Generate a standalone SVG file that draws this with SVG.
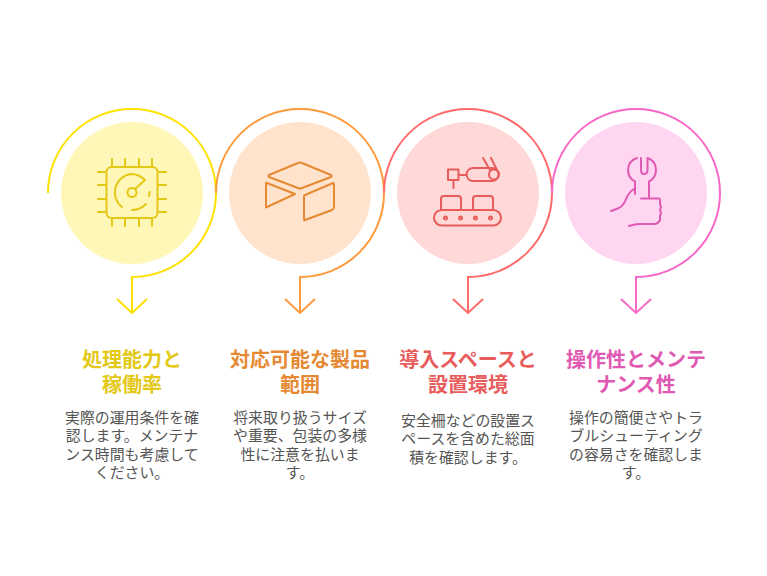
<svg xmlns="http://www.w3.org/2000/svg" width="767" height="576" viewBox="0 0 767 576">
<style>
text{font-family:"Noto Sans CJK JP","Noto Sans CJK SC",sans-serif;text-anchor:middle}
.t{font-size:20px;font-weight:700}
.b{font-size:14.9px;fill:#555}
.c{fill:none;stroke-width:2}
.i{fill:none;stroke-width:2;stroke-linecap:round;stroke-linejoin:round}
</style>
<rect width="767" height="576" fill="#fff"/>
<g id="connectors">
<path class="c" stroke="#FFE100" d="M48 193A84 84 0 1 1 132 277V313M117 299L132 313L147 299"/>
<path class="c" stroke="#FF9A3D" d="M216 193A84 84 0 1 1 300 277V313M285 299L300 313L315 299"/>
<path class="c" stroke="#FF6B6B" d="M384 193A84 84 0 1 1 468 277V313M453 299L468 313L483 299"/>
<path class="c" stroke="#F868C8" d="M552 193A84 84 0 1 1 636 277V313M621 299L636 313L651 299"/>
</g>
<g id="node1">
<circle cx="132" cy="193" r="71" fill="#FFF7B8"/>
<g class="i" stroke="#E3C816">
<rect x="106.500" y="167" width="51" height="51" rx="5"/>
<path d="M112 159V167M125 159V167M139 159V167M152 159V167M112 218V226M125 218V226M139 218V226M152 218V226M98 172H106M98 185H106M98 199H106M98 212H106M158 172H166M158 185H166M158 199H166M158 212H166"/>
<circle cx="132" cy="192.500" r="4.500"/>
<path d="M135 189L145 180Q139 174 131 174A18.500 18.500 0 0 0 122 207M132 210Q140 210 146 204M149.500 192L149 196"/>
</g>
<text class="t" fill="#E3C816" x="132" y="367">処理能力と</text>
<text class="t" fill="#E3C816" x="132" y="392">稼働率</text>
<text class="b" x="132" y="422.500">実際の運用条件を確</text>
<text class="b" x="132" y="441">認します。メンテナ</text>
<text class="b" x="132" y="459.500">ンス時間も考慮して</text>
<text class="b" x="132" y="478">ください。</text>
</g>
<g id="node2">
<circle cx="300" cy="193" r="71" fill="#FFE3CC"/>
<g class="i" stroke="#E58A33">
<path d="M269 175L298 163Q300 162 302 163L331 175Q332 176 331 177L302 188Q300 189 298 188L269 177Q268 176 269 175Z"/>
<path d="M266 183Q266 182 267 183L295 194L267 207Q266 208 266 207Z"/>
<path d="M305 195L333 183Q334 183 334 185V207Q334 209 332 210L305 220Q304 221 304 219V197Q304 195 305 195Z"/>
</g>
<text class="t" fill="#E58A33" x="300" y="367">対応可能な製品</text>
<text class="t" fill="#E58A33" x="300" y="392">範囲</text>
<text class="b" x="300" y="422.500">将来取り扱うサイズ</text>
<text class="b" x="300" y="441">や重要、包装の多様</text>
<text class="b" x="300" y="459.500">性に注意を払いま</text>
<text class="b" x="300" y="478">す。</text>
</g>
<g id="node3">
<circle cx="468" cy="193" r="71" fill="#FFD8D8"/>
<g class="i" stroke="#E85C5C">
<rect x="448" y="169.500" width="10.500" height="10.500"/>
<path d="M453.500 180V188M458.500 175H467M483 168H492A6.500 6.500 0 0 1 492 181H473A6.500 6.500 0 0 1 473 168H483M483 158L490 170M491 158L499 174"/>
<circle cx="494" cy="174.500" r="5"/>
<path d="M441 210V199Q441 196 444 196H458Q461 196 461 199V210M473 210V199Q473 196 476 196H490Q493 196 493 199V210"/>
<rect x="434" y="210" width="67" height="15.500" rx="7.700"/>
<circle cx="445.500" cy="218" r="1.500"/><circle cx="460.500" cy="218" r="1.500"/><circle cx="475.500" cy="218" r="1.500"/><circle cx="490.500" cy="218" r="1.500"/>
</g>
<text class="t" fill="#E85C5C" x="468" y="367">導入スペースと</text>
<text class="t" fill="#E85C5C" x="468" y="392">設置環境</text>
<text class="b" x="468" y="425.500">安全柵などの設置ス</text>
<text class="b" x="468" y="444">ペースを含めた総面</text>
<text class="b" x="468" y="462.500">積を確認します。</text>
</g>
<g id="node4">
<circle cx="636" cy="193" r="71" fill="#FFD6F1"/>
<g class="i" stroke="#E059B2">
<path d="M637 158Q628 161 628 170Q628 178 635 181.500V194M641 158V170Q641 174 644 174Q647.500 174 647.500 170V158Q656 161 656 170Q656 178 649 181.500V198"/>
<path d="M611 211L619 208Q624 205 626 199Q629 192 634 189M641 198.500H659Q660 198.500 660 201V204L661 207L660 210L661 213L660 216V220Q658 224 654 224H640Q635 224 629 226"/>
</g>
<text class="t" fill="#E059B2" x="636" y="367">操作性とメンテ</text>
<text class="t" fill="#E059B2" x="636" y="392">ナンス性</text>
<text class="b" x="636" y="422.500">操作の簡便さやトラ</text>
<text class="b" x="636" y="441">ブルシューティング</text>
<text class="b" x="636" y="459.500">の容易さを確認しま</text>
<text class="b" x="636" y="478">す。</text>
</g>
</svg>
